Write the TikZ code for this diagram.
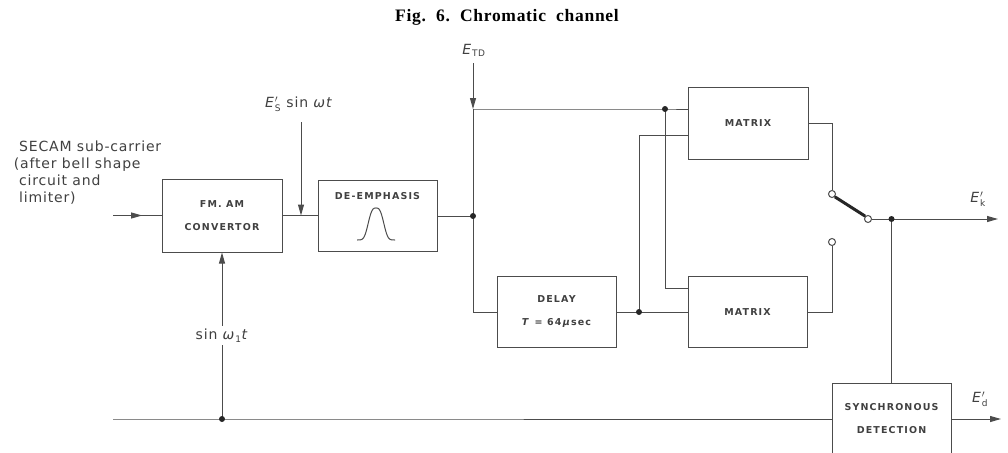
\documentclass[tikz,border=0pt]{standalone}
\usepackage{fontspec}
\setmainfont{DejaVu Sans}
\setsansfont{DejaVu Sans}
\newfontfamily\titlefont{Liberation Serif}
\usetikzlibrary{calc,arrows.meta,decorations.markings}

\newcommand{\sigl}[2]{\textit{#1}$^{\prime}_{\hbox{\small #2}}$}

\begin{document}
\begin{tikzpicture}[x=1pt,y=-1pt,line width=1pt,
  ln/.style={draw=black!70},
  arr/.style={ln,-{Triangle[length=11pt,width=6pt]}},
  blk/.style={ln,rectangle,inner sep=0pt,align=center,text=black!75,
    font=\fontsize{9.5}{23}\selectfont\bfseries\addfontfeatures{LetterSpace=12}},
  boxtxt/.style={text=black!75,font=\fontsize{9.5}{23}\selectfont\bfseries\addfontfeatures{LetterSpace=12}},
  lab/.style={text=black!75,font=\fontsize{14}{17}\selectfont\addfontfeatures{LetterSpace=6}},
  cont/.style={circle,draw=black!70,fill=white,inner sep=0pt,minimum size=7pt},
  dot/.style={fill=black!85}]
\useasboundingbox (0,0) rectangle (1008,452);
% Titel
\node[font=\titlefont\fontsize{17.5}{20}\selectfont\bfseries\addfontfeatures{LetterSpace=4}] (title) at (507,17) {Fig.\ \ 6.\ \ Chromatic\ \ channel};
% Bloecke
\node[blk,minimum width=120pt,minimum height=73pt] (conv) at (222,215.5) {FM. AM\\CONVERTOR};
\node[blk,minimum width=119pt,minimum height=71pt] (demph) at (377.5,216) {};
\node[boxtxt] (demphtxt) at ($(demph.north)+(0,16)$) {DE-EMPHASIS};
\draw[ln] plot[domain=-19:19,samples=80,smooth] ({376+\x},{240-32*exp(-(abs(\x)/9)^3)});
\node[blk,minimum width=119pt,minimum height=71pt] (delay) at (556.5,312) {DELAY\\\textit{T} = 64\,\textit{μ}sec};
\node[blk,minimum width=120pt,minimum height=72pt] (mat1) at (748,123) {MATRIX};
\node[blk,minimum width=119pt,minimum height=71pt] (mat2) at (747.5,312) {MATRIX};
\node[blk,minimum width=119pt,minimum height=72pt] (sync) at (891.5,419) {SYNCHRONOUS\\DETECTION};
% Eingaenge
\node[lab,align=left,anchor=north west] (secam) at (10,137) {\ SECAM sub-carrier\\(after bell shape\\\ circuit and\\\ limiter)};
\coordinate (inA) at (113,215.5);
\draw[ln,postaction={decorate},decoration={markings,mark=at position 0.6 with {\arrow{Triangle[length=11pt,width=6pt]}}}] (inA) -- (conv.west);
\coordinate (inB) at (113,419);
\coordinate (j5) at (222,419);
\draw[ln] (inB) -- (j5) -- (sync.west);
\draw[arr] (j5) -- node[lab,fill=white,inner sep=3pt] (sinw) {sin \textit{ω}$_{\hbox{\small 1}}$\textit{t}} (conv.south);
% Kette oben
\draw[ln] (conv.east) -- (demph.west |- conv.east);
\node[lab] (es) at (299,104) {\sigl{E}{S} sin \textit{ωt}};
\coordinate (esin) at (301,215.5);
\draw[arr] (esin |- 0,122) -- (esin);
\coordinate (j1) at (473,216);
\coordinate (tl) at (473,109);
\coordinate (j2) at (665,109);
\draw[ln] (demph.east) -- (j1);
\node[lab] (etd) at (474,50) {\textit{E}$_{\hbox{\small TD}}$};
\draw[arr] (tl |- 0,63) -- (tl);
\draw[ln] (tl) -- (j2) -- (mat1.west |- tl);
\draw[ln] (tl) |- (delay.west);
% Verzoegerung und Matrix
\coordinate (j3) at (639,312);
\draw[ln] (delay.east) -- (mat2.west);
\draw[ln] (j3) |- ($(mat1.west)+(0,12)$);
\draw[ln] (j2) |- ($(mat2.west)+(0,-24)$);
% Umschalter
\node[cont] (c1) at (832,194) {};
\node[cont] (c2) at (868,219) {};
\node[cont] (c3) at (832,242) {};
\draw[ln] (mat1.east) -| (c1.north);
\draw[ln] (mat2.east) -| (c3.south);
\draw[draw=black!85,line width=3pt] (c1.south east) -- (c2.north west);
\coordinate (j4) at (891.5,219);
\coordinate (ek) at (998,219);
\draw[ln] (c2.east) -- (j4);
\draw[arr] (j4) -- (ek);
\node[lab] (eklab) at (978,199) {\sigl{E}{k}};
\draw[ln] (j4) -- (sync.north);
\coordinate (ed) at (1001,419);
\draw[arr] (sync.east) -- (ed);
\node[lab] (edlab) at (980,399) {\sigl{E}{d}};
% Knoten
\foreach \p in {j1,j2,j3,j4,j5}{\fill[dot] (\p) circle (3pt);}
\end{tikzpicture}
\end{document}
